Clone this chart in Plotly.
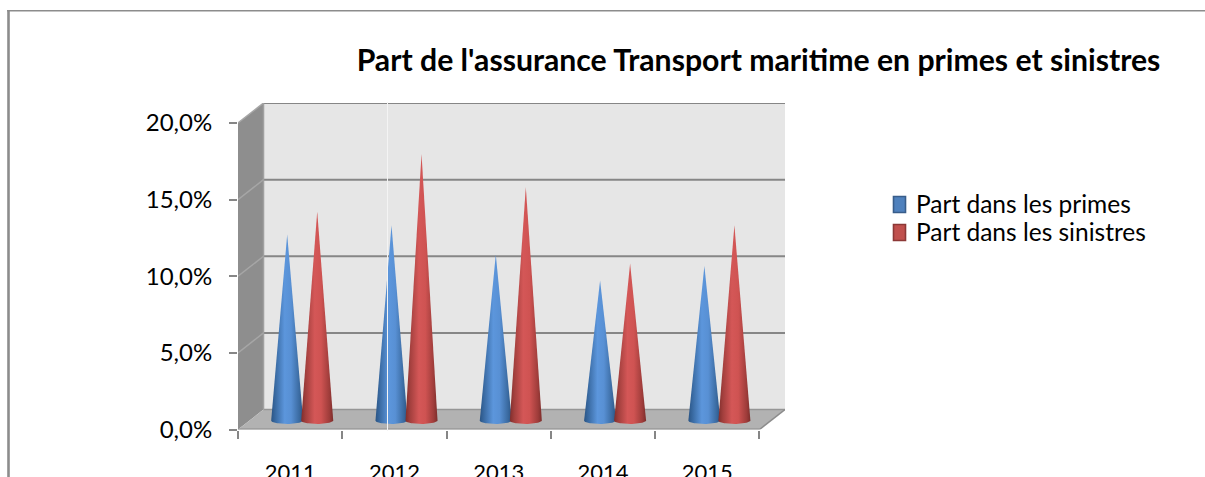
import numpy as np
import plotly.graph_objects as go

W, H = 1205, 477

title_text = "Part de l'assurance Transport maritime en primes et sinistres"
categories = ["2011", "2012", "2013", "2014", "2015"]
primes = [12.15, 12.75, 10.85, 9.15, 10.1]
sinistres = [13.65, 17.4, 15.25, 10.25, 12.75]
series_names = ["Part dans les primes", "Part dans les sinistres"]
y_ticks = [0, 5, 10, 15, 20]
y_labels = ["0,0%", "5,0%", "10,0%", "15,0%", "20,0%"]

FONT = "Lato"
# plot geometry in pixels
X0, X_FRONT, X_BACK = 238.0, 759.0, 785.0
Y0, Y_BACK = 429.5, 103.0
XU = (X_FRONT - X0) / 5
YU = (Y0 - 123.0) / 20
DX = 25.5 / XU            # depth offset of the back wall (x units)
DY = 20.0 / YU            # depth offset of the back wall (y units)
HALF = 16.0 / XU          # cone base half-width
GAP = 15.0 / XU           # offset of each cone from the group centre
SHIFT = -0.7 / XU
BASE_Y = (Y0 - 420.7) / YU
BASE_R = 3.2 / YU


def px(x):
    return x / W


def py(y):
    return (H - y) / H


def cone(cx, v):
    t = np.linspace(0, np.pi, 40)
    ex = cx - HALF * np.cos(t)
    ey = BASE_Y - BASE_R * np.sin(t)
    xs = np.concatenate([ex, [cx, ex[0]]])
    ys = np.concatenate([ey, [BASE_Y + v, ey[0]]])
    return xs, ys


palette = [
    [[0, "#2A5484"], [0.14, "#3A6BA3"], [0.42, "#5C96DC"], [0.62, "#5890D4"], [0.88, "#3A6AA0"], [1, "#2A5484"]],
    [[0, "#7F2E2C"], [0.14, "#A23F3D"], [0.42, "#D45757"], [0.62, "#CF5352"], [0.88, "#9E3C3A"], [1, "#7C2D2B"]],
]
legend_colors = [("#4F81BD", "#385D8A"), ("#C0504D", "#8C3836")]

fig = go.Figure()
for i in range(len(categories)):
    centre = i + 0.5 + DX / 2 + SHIFT
    for k, vals in enumerate([primes, sinistres]):
        cx = centre + (-GAP if k == 0 else GAP)
        xs, ys = cone(cx, vals[i])
        fig.add_trace(go.Scatter(
            x=xs, y=ys, mode="lines", line=dict(width=0), fill="toself",
            fillgradient=dict(type="horizontal", colorscale=palette[k]),
            showlegend=False, name=series_names[k], hoverinfo="skip",
        ))

for k, name in enumerate(series_names):
    fig.add_trace(go.Scatter(
        x=[None], y=[None], mode="markers", name=name,
        legend="legend" if k == 0 else "legend2",
        marker=dict(symbol="square", size=1, color="rgba(0,0,0,0)"),
    ))

shapes = []
# outer frame
shapes.append(dict(type="line", xref="paper", yref="paper", x0=px(7), x1=px(W), y0=py(10.7), y1=py(10.7),
                   line=dict(color="#8C8C8C", width=1.6)))
shapes.append(dict(type="line", xref="paper", yref="paper", x0=px(8.5), x1=px(8.5), y0=py(10), y1=py(H),
                   line=dict(color="#8C8C8C", width=2.6)))
# back wall, side wall, floor
shapes.append(dict(type="rect", xref="x", yref="y", x0=DX, x1=5 + DX, y0=DY, y1=20 + DY,
                   fillcolor="#E6E6E6", line=dict(width=0), layer="below"))
shapes.append(dict(type="path", xref="x", yref="y",
                   path=f"M 0 0 L {DX} {DY} L {DX} {20 + DY} L 0 20 Z",
                   fillcolor="#8E8E8E", line=dict(width=0), layer="below"))
shapes.append(dict(type="path", xref="x", yref="y",
                   path=f"M 0 0 L {DX} {DY} L {5 + DX} {DY} L 5 0 Z",
                   fillcolor="#B2B2B2", line=dict(width=0), layer="below"))
# gridlines
for v in y_ticks:
    if v > 0:
        shapes.append(dict(type="line", xref="x", yref="y", x0=DX, x1=5 + DX, y0=v + DY, y1=v + DY,
                           line=dict(color="#868686", width=2), layer="below"))
        shapes.append(dict(type="line", xref="x", yref="y", x0=0, x1=DX, y0=v, y1=v + DY,
                           line=dict(color="#A6A6A6", width=1.5), layer="below"))
# floor edges
shapes.append(dict(type="line", xref="x", yref="y", x0=0, x1=5, y0=0, y1=0,
                   line=dict(color="#8C8C8C", width=2), layer="below"))
shapes.append(dict(type="line", xref="x", yref="y", x0=DX, x1=5 + DX, y0=DY, y1=DY,
                   line=dict(color="#969696", width=1.5), layer="below"))
shapes.append(dict(type="line", xref="x", yref="y", x0=5, x1=5 + DX, y0=0, y1=DY,
                   line=dict(color="#8C8C8C", width=1.5), layer="below"))
shapes.append(dict(type="line", xref="x", yref="y", x0=DX, x1=DX, y0=DY, y1=20 + DY,
                   line=dict(color="#A0A0A0", width=1.5), layer="below"))
# white seam
shapes.append(dict(type="line", xref="paper", yref="paper", x0=px(387.5), x1=px(387.5), y0=py(102), y1=py(431),
                   line=dict(color="#F4F4F4", width=1), layer="above"))
# legend swatches
for k, (fc, lc) in enumerate(legend_colors):
    yc = 204.5 + 28 * k
    shapes.append(dict(type="rect", xref="paper", yref="paper", x0=px(893.5), x1=px(905.5),
                       y0=py(yc - 8), y1=py(yc + 8), fillcolor=fc, line=dict(color=lc, width=1.6)))

legend_common = dict(x=px(876), xanchor="left", yanchor="middle", bgcolor="rgba(0,0,0,0)",
                     font=dict(family=FONT, size=24.5, color="black"))

fig.update_layout(
    width=W, height=H, autosize=False,
    margin=dict(l=0, r=0, t=0, b=0, autoexpand=False),
    paper_bgcolor="white", plot_bgcolor="rgba(0,0,0,0)",
    font=dict(family=FONT, color="black", size=22),
    title=dict(text=f"<b>{title_text}</b>", x=758.5 / W, xanchor="center", y=py(60), yanchor="middle",
               font=dict(family=FONT, size=30.2, color="black")),
    shapes=shapes,
    showlegend=True,
    legend=dict(y=py(204), **legend_common),
    legend2=dict(y=py(232), **legend_common),
    xaxis=dict(domain=[px(X0), px(X_BACK)], range=[0, 5 + DX], showgrid=False, zeroline=False, showline=False,
               tickmode="array", tickvals=[i + 0.5 for i in range(5)], ticktext=categories,
               ticks="", ticklabelstandoff=27, tickfont=dict(family=FONT, size=22, color="black"),
               minor=dict(tick0=0, dtick=1, ticks="outside", ticklen=8, tickwidth=2, tickcolor="#868686",
                          showgrid=False)),
    yaxis=dict(domain=[py(Y0), py(Y_BACK)], range=[0, (Y0 - Y_BACK) / YU], showgrid=False, zeroline=False,
               showline=False, tickmode="array", tickvals=y_ticks, ticktext=y_labels,
               ticks="outside", ticklen=8, tickwidth=2, tickcolor="#868686", ticklabelstandoff=12,
               tickfont=dict(family=FONT, size=24, color="black")),
)

fig.write_html("out.html", config={"displayModeBar": False},
               post_script="document.body.style.margin='0';document.body.style.overflow='hidden';")
